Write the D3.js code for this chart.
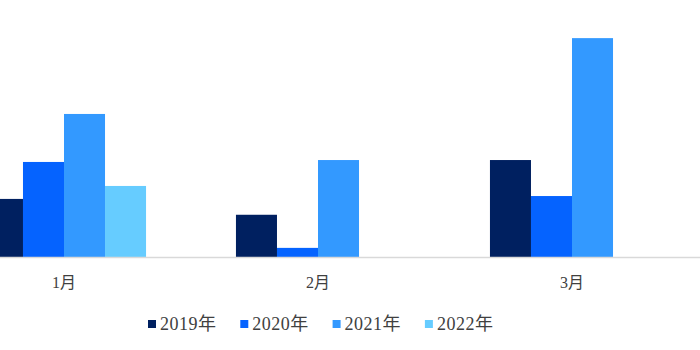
<!DOCTYPE html>
<html lang="zh">
<head>
<meta charset="UTF-8"/>
<title>月度对比</title>
<script src="https://d3js.org/d3.v7.min.js"></script>
<style>
  html, body { margin: 0; padding: 0; background: #fff; }
  svg { display: block; }
  text { font-family: "Liberation Serif", "DejaVu Serif", "Noto Sans CJK SC", serif; fill: #404040; }
</style>
</head>
<body>
<script>
var w = 700;
var h = 350;

var months = ["1月", "2月", "3月"];
var years = ["2019年", "2020年", "2021年", "2022年"];
var colors = ["#002060", "#0563ff", "#3399ff", "#66ccff"];

// values per year, one per month
var v2019 = [12.1, 8.8, 20.2];
var v2020 = [19.8, 1.9, 12.7];
var v2021 = [29.8, 20.2, 45.6];
var v2022 = [14.8, 0, 0];
var series = [v2019, v2020, v2021, v2022];

var baseY = 257;

var x0 = d3.scaleBand()
    .domain(months)
    .range([-63, 699])
    .paddingInner(0.354)
    .paddingOuter(0.177);

var x1 = d3.scaleBand()
    .domain(years)
    .range([0, x0.bandwidth()]);

var y = d3.scaleLinear()
    .domain([0, 50])
    .range([baseY, 17]);

var svg = d3.select("body").append("svg")
    .attr("width", w)
    .attr("height", h);

var groups = svg.selectAll("g.month")
    .data(months)
    .enter()
    .append("g")
    .attr("class", "month")
    .attr("transform", function(d) { return "translate(" + x0(d) + ",0)"; });

groups.selectAll("rect")
    .data(function(m, i) {
        return years.map(function(yr, j) { return { year: yr, value: series[j][i], c: colors[j] }; });
    })
    .enter()
    .append("rect")
    .attr("x", function(d) { return x1(d.year); })
    .attr("y", function(d) { return y(d.value); })
    .attr("width", x1.bandwidth())
    .attr("height", function(d) { return baseY - y(d.value); })
    .attr("fill", function(d) { return d.c; });

// category axis
var xAxis = d3.axisBottom(x0).tickSize(0).tickPadding(20);
var ax = svg.append("g")
    .attr("transform", "translate(0," + baseY + ")")
    .call(xAxis);
ax.select(".domain").remove();
ax.selectAll("text")
    .attr("font-size", 16)
    .attr("font-family", null)
    .attr("fill", "#404040");
ax.append("line")
    .attr("x1", 0).attr("x2", w)
    .attr("y1", 0.5).attr("y2", 0.5)
    .attr("stroke", "#d9d9d9")
    .attr("stroke-width", 1.5);

// legend
var legend = svg.selectAll("g.legend")
    .data(years)
    .enter()
    .append("g")
    .attr("class", "legend")
    .attr("transform", function(d, i) { return "translate(" + (148 + i * 92.3) + ",320)"; });

legend.append("rect")
    .attr("width", 8)
    .attr("height", 8)
    .attr("fill", function(d, i) { return colors[i]; });

legend.append("text")
    .attr("x", 12)
    .attr("y", 10)
    .attr("font-size", 18)
    .attr("letter-spacing", 0.5)
    .text(function(d) { return d; });
</script>
</body>
</html>
